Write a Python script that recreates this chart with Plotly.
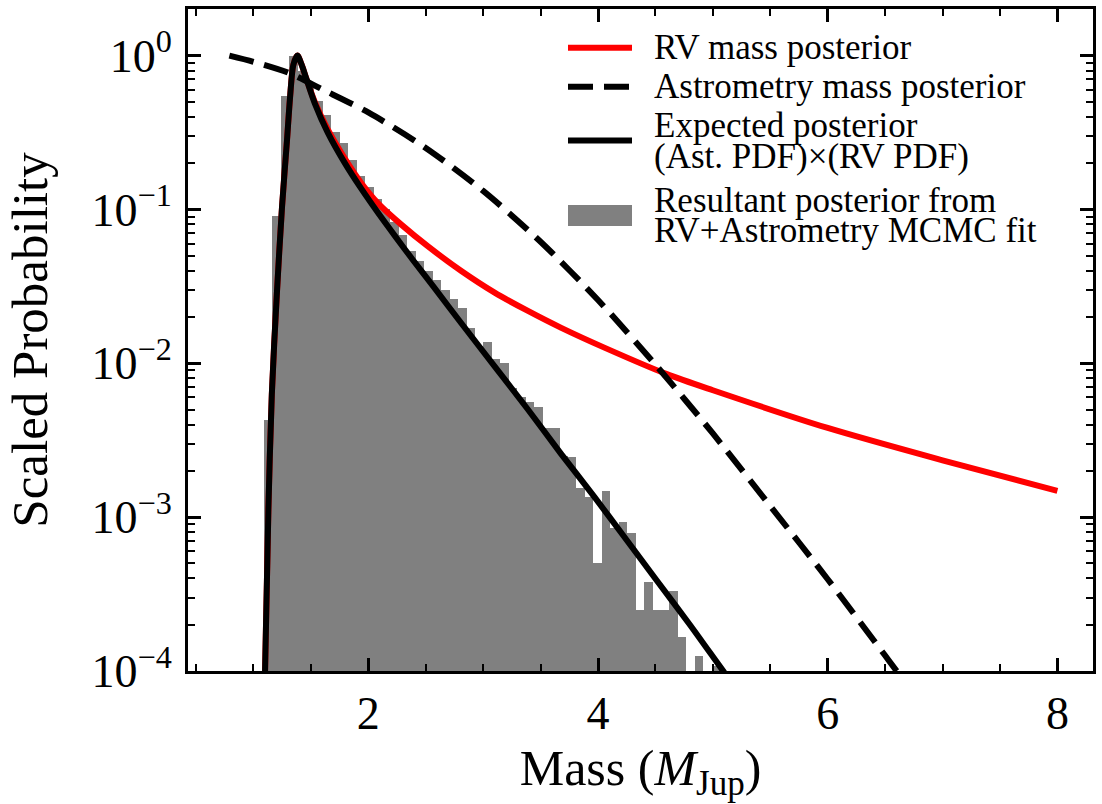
import plotly.graph_objects as go

# ---------------- data ----------------
# histogram of MCMC mass samples (scaled), uniform bins
hist_start = 1.089          # left edge of first bin (M_Jup)
bin_width = 0.0736          # bin width (M_Jup)
hist_vals = [0.0043, 0.091, 0.55, 1.0, 0.79, 0.63, 0.51, 0.41, 0.32, 0.27,
             0.21, 0.166, 0.141, 0.117, 0.100, 0.083, 0.068, 0.054, 0.046, 0.040,
             0.035, 0.030, 0.026, 0.023, 0.017, 0.0129, 0.0138, 0.0107, 0.0100, 0.0069,
             0.0060, 0.0056, 0.0052, 0.0038, 0.0038, 0.0025, 0.00245, 0.00155, 0.00135, 0.0005,
             0.00148, 0.00085, 0.00093, 0.00079, 0.00025, 0.00038, 0.00025, 0.00025, 0.00033, 0.000166,
             None, 0.000126, None, 0.000107]

# RV mass posterior (red)
rv_mass = [1.095, 1.130, 1.160, 1.205, 1.248, 1.291, 1.320, 1.347, 1.382, 1.420, 1.460,
           1.534, 1.647, 1.796, 1.940, 2.083, 2.290, 2.520, 2.810, 3.100,
           3.390, 3.680, 4.060, 4.600, 5.000, 6.000, 7.000, 8.000]
rv_prob = [6e-5, 1.12e-3, 6.3e-3, 0.0295, 0.102, 0.275, 0.55, 0.87, 1.0, 0.87, 0.71,
           0.50, 0.331, 0.214, 0.148, 0.110, 0.0794, 0.0575, 0.0398, 0.0288,
           0.0219, 0.0170, 0.0126, 0.00850, 0.00668, 0.00380, 0.00234, 0.00148]

# Astrometry mass posterior (black dashed)
ast_mass = [0.79, 1.0, 1.3, 1.6, 2.0, 2.5, 3.0, 3.5, 4.0, 4.5, 5.0, 5.5, 6.0, 6.5, 6.62, 6.7]
ast_prob = [1.0, 0.912, 0.776, 0.603, 0.427, 0.251, 0.132, 0.0617, 0.0258, 0.0098,
            0.00350, 0.00118, 0.000395, 0.000126, 0.0000955, 0.0000794]

# Expected posterior (Ast. PDF) x (RV PDF) (black solid)
exp_mass = [1.095, 1.130, 1.160, 1.205, 1.248, 1.291, 1.320, 1.347, 1.382, 1.420, 1.460,
            1.534, 1.647, 1.796, 1.940, 2.083, 2.230, 2.390, 2.566, 2.810, 3.100,
            3.390, 3.680, 3.970, 4.220, 4.510, 4.800, 5.050, 5.100]
exp_prob = [6e-5, 1.12e-3, 6.3e-3, 0.0295, 0.102, 0.275, 0.55, 0.87, 1.0, 0.87, 0.71,
            0.49, 0.316, 0.200, 0.136, 0.0955, 0.0676, 0.0468, 0.0316, 0.0182, 0.00955,
            0.00501, 0.00257, 0.00135, 0.000759, 0.000389, 0.000200, 0.000110, 0.0000977]

x_ticks = [2, 4, 6, 8]
y_ticks = [1e-4, 1e-3, 1e-2, 1e-1, 1]
y_ticktext = ["10<sup>\u22124</sup>", "10<sup>\u22123</sup>", "10<sup>\u22122</sup>",
              "10<sup>\u22121</sup>", "10<sup>0</sup>"]

legend_labels = ["RV mass posterior", "Astrometry mass posterior",
                 ["Expected posterior", "(Ast. PDF)\u00d7(RV PDF)"],
                 ["Resultant posterior from", "RV+Astrometry MCMC fit"]]

# ---------------- figure ----------------
FONT = "Liberation Serif"
W, H = 1102, 804
ML, MR, MT, MB = 188, 9, 6, 133
PW, PH = W - ML - MR, H - MT - MB

bin_centers = [hist_start + bin_width * (i + 0.5) for i in range(len(hist_vals))]

fig = go.Figure()
fig.add_trace(go.Bar(x=bin_centers, y=hist_vals, width=bin_width,
                     marker=dict(color="#808080", line=dict(width=0)),
                     showlegend=False))
fig.add_trace(go.Scatter(x=rv_mass, y=rv_prob, mode="lines",
                         line=dict(color="#ff0000", width=6, shape="spline", smoothing=0.8),
                         showlegend=False))
fig.add_trace(go.Scatter(x=ast_mass, y=ast_prob, mode="lines",
                         line=dict(color="black", width=6, dash="25px,11px",
                                   shape="spline", smoothing=0.8),
                         showlegend=False))
fig.add_trace(go.Scatter(x=exp_mass, y=exp_prob, mode="lines",
                         line=dict(color="black", width=6, shape="spline", smoothing=0.8),
                         showlegend=False))

# minor log ticks
y_minor = [m * 10.0 ** e for e in range(-4, 0) for m in range(2, 10)]

fig.update_xaxes(range=[0.43, 8.31], tickvals=x_ticks, ticks="inside", ticklen=13,
                 tickwidth=2.5, tickcolor="black", showline=True, linewidth=3,
                 linecolor="black", mirror="allticks", showgrid=False, zeroline=False,
                 tickfont=dict(family=FONT, size=46, color="black"),
                 minor=dict(ticks="inside", ticklen=7, tickwidth=2, dtick=0.5,
                            tickcolor="black", showgrid=False),
                 title=dict(text="Mass (<i>M</i><sub>Jup</sub>)",
                            font=dict(family=FONT, size=50, color="black"), standoff=12))
fig.update_yaxes(type="log", range=[-4, 0.303], tickvals=y_ticks, ticktext=y_ticktext,
                 ticks="inside", ticklen=13, tickwidth=2.5, tickcolor="black",
                 showline=True, linewidth=3, linecolor="black", mirror="allticks",
                 showgrid=False, zeroline=False, ticklabelstandoff=4,
                 tickfont=dict(family=FONT, size=46, color="black"),
                 minor=dict(ticks="inside", ticklen=7, tickwidth=2, tickvals=y_minor,
                            tickcolor="black", showgrid=False),
                 title=dict(text="Scaled Probability",
                            font=dict(family=FONT, size=51, color="black"), standoff=28))

# manual legend (pixel layout of the reference -> paper coords)
def px(xp):
    return (xp - ML) / PW

def py(yp):
    return (H - MB - yp) / PH

sx0, sx1, tx = 568, 632, 652
LF = dict(family=FONT, size=35, color="black")
shapes = [
    dict(type="line", xref="paper", yref="paper", x0=px(sx0), x1=px(sx1), y0=py(45), y1=py(45),
         line=dict(color="#ff0000", width=6)),
    dict(type="line", xref="paper", yref="paper", x0=px(sx0), x1=px(sx1), y0=py(84), y1=py(84),
         line=dict(color="black", width=6, dash="25px,11px")),
    dict(type="line", xref="paper", yref="paper", x0=px(sx0), x1=px(sx1), y0=py(138), y1=py(138),
         line=dict(color="black", width=6)),
    dict(type="rect", xref="paper", yref="paper", x0=px(sx0), x1=px(sx1), y0=py(224), y1=py(203),
         line=dict(width=0), fillcolor="#808080"),
]
ann_rows = [(legend_labels[0], 45), (legend_labels[1], 84),
            (legend_labels[2][0], 123), (legend_labels[2][1], 154),
            (legend_labels[3][0], 198), (legend_labels[3][1], 229)]
annotations = [dict(text=t, xref="paper", yref="paper", x=px(tx), y=py(yy),
                    xanchor="left", yanchor="middle", showarrow=False, font=LF)
               for t, yy in ann_rows]

fig.update_layout(width=W, height=H, margin=dict(l=ML, r=MR, t=MT, b=MB),
                  paper_bgcolor="white", plot_bgcolor="white", bargap=0,
                  shapes=shapes, annotations=annotations, showlegend=False)

fig.write_html("out.html")
